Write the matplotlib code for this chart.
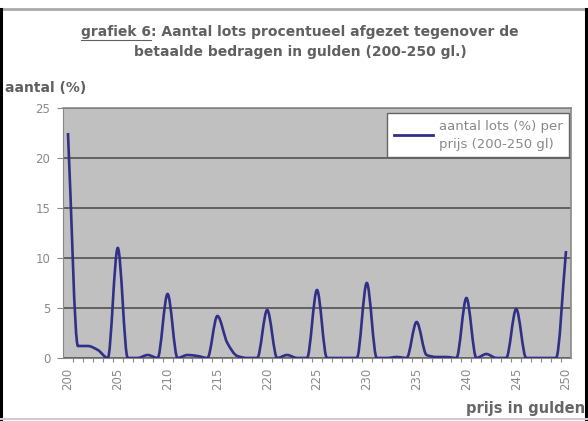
import matplotlib
matplotlib.use("Agg")
import matplotlib.pyplot as plt
from matplotlib.path import Path
from matplotlib.patches import PathPatch
from matplotlib.lines import Line2D

plt.rcParams['font.family'] = ['DejaVu Sans']

# prijs in gulden (200-250) and share of lots (%)
prices = list(range(200, 251))
values = [22.5, 1.2, 1.2, 0.8, 0.0, 11.0, 0.0, 0.0, 0.3, 0.0,
          6.4, 0.0, 0.3, 0.2, 0.0, 4.2, 1.5, 0.2, 0.0, 0.0,
          4.8, 0.0, 0.3, 0.0, 0.0, 6.8, 0.0, 0.0, 0.0, 0.0,
          7.5, 0.0, 0.0, 0.1, 0.0, 3.6, 0.3, 0.1, 0.1, 0.0,
          6.0, 0.0, 0.4, 0.0, 0.0, 4.9, 0.0, 0.0, 0.0, 0.0,
          10.7]
yticks = [0, 5, 10, 15, 20, 25]
xlabels = [200, 205, 210, 215, 220, 225, 230, 235, 240, 245, 250]

title1 = "grafiek 6: Aantal lots procentueel afgezet tegenover de"
title2 = "betaalde bedragen in gulden (200-250 gl.)"
series_name = "aantal lots (%) per\nprijs (200-250 gl)"

W, H = 588, 421
fig = plt.figure(figsize=(W / 100, H / 100), dpi=100)
ax = fig.add_axes([63 / W, (H - 358) / H, (571 - 63) / W, (358 - 108) / H])
ax.set_facecolor('#c0c0c0')

# smoothed line: bezier through the points with monotone tangents
n = len(prices)
d = [(values[i + 1] - values[i]) / (prices[i + 1] - prices[i]) for i in range(n - 1)]
m = [d[0]]
for i in range(1, n - 1):
    if d[i - 1] * d[i] <= 0:
        m.append(0.0)
    else:
        m.append(2 * d[i - 1] * d[i] / (d[i - 1] + d[i]))
m.append(d[-1])
verts = [(prices[0], values[0])]
codes = [Path.MOVETO]
for i in range(n - 1):
    h = prices[i + 1] - prices[i]
    verts += [(prices[i] + h / 3, values[i] + m[i] * h / 3),
              (prices[i + 1] - h / 3, values[i + 1] - m[i + 1] * h / 3),
              (prices[i + 1], values[i + 1])]
    codes += [Path.CURVE4] * 3
line_col = '#303088'
ax.add_patch(PathPatch(Path(verts, codes), fill=False, edgecolor=line_col,
                       lw=1.9, zorder=3))

ax.set_xlim(prices[0] - 0.5, prices[-1] + 0.5)
ax.set_ylim(0, 25)
ax.set_yticks(yticks)
ax.yaxis.grid(True, color='#5a5a5a', lw=1.3)
ax.set_axisbelow(True)
ax.set_xticks(xlabels)
ax.set_xticklabels([str(v) for v in xlabels], rotation=90)
ax.set_xticks([p + 0.5 for p in prices[:-1]], minor=True)

tcol = '#8a8a8a'
ax.tick_params(axis='y', colors='#888888', labelcolor=tcol, labelsize=8.5,
               length=4, width=0.8, pad=5)
ax.tick_params(axis='x', which='major', length=0, labelcolor=tcol, labelsize=8.5, pad=7)
ax.tick_params(axis='x', which='minor', length=3, color='#888888', width=0.8)
for s in ['top', 'right']:
    ax.spines[s].set_color('#8a8a8a')
    ax.spines[s].set_linewidth(1.2)
ax.spines['left'].set_color('#888888')
ax.spines['bottom'].set_color('#888888')

handle = Line2D([], [], color=line_col, lw=2)
leg = ax.legend([handle], [series_name], loc='upper right',
                bbox_to_anchor=((569 - 63) / 508, (358 - 113) / 250),
                borderaxespad=0, fontsize=9.5, frameon=True,
                fancybox=False, handlelength=3.0, handletextpad=0.4,
                borderpad=0.5, labelcolor='#888888', framealpha=1)
leg.get_texts()[0].set_linespacing(1.5)
leg.get_frame().set_edgecolor('#666666')
leg.get_frame().set_facecolor('white')
leg.get_frame().set_linewidth(1.0)

# titles
tc = '#606060'
t1 = fig.text(300 / W, 1 - 32 / H, title1, ha='center', va='center',
              fontsize=10, color=tc, fontweight='bold')
fig.text(300 / W, 1 - 52 / H, title2, ha='center', va='center',
         fontsize=10, color=tc, fontweight='bold')
fig.text(5 / W, 1 - 88 / H, "aantal (%)", ha='left', va='center',
         fontsize=10, color=tc, fontweight='bold')
fig.text(585 / W, 1 - 408 / H, "prijs in gulden", ha='right', va='center',
         fontsize=10.5, color='#666666', fontweight='bold')

# underline "grafiek 6"
fig.canvas.draw()
r = fig.canvas.get_renderer()
bb = t1.get_window_extent(r)
tmp = fig.text(0, 0, "grafiek 6", fontsize=10, fontweight='bold')
w = tmp.get_window_extent(r).width
tmp.remove()
fig.add_artist(Line2D([bb.x0 / W, (bb.x0 + w) / W], [(bb.y0 - 1) / H] * 2,
                      color=tc, lw=0.8))

# outer border of the screenshot
fig.add_artist(Line2D([0, 1], [1 - 9 / H] * 2, color='#aaaaaa', lw=2))
fig.add_artist(Line2D([1.5 / W] * 2, [2 / H, 1 - 9 / H], color='black', lw=2.2))
fig.add_artist(Line2D([(W - 2) / W] * 2, [2 / H, 1 - 9 / H], color='black', lw=2.2))
fig.add_artist(Line2D([0, 1], [2 / H] * 2, color='#cccccc', lw=1.5))

fig.savefig("out.png", dpi=100)
